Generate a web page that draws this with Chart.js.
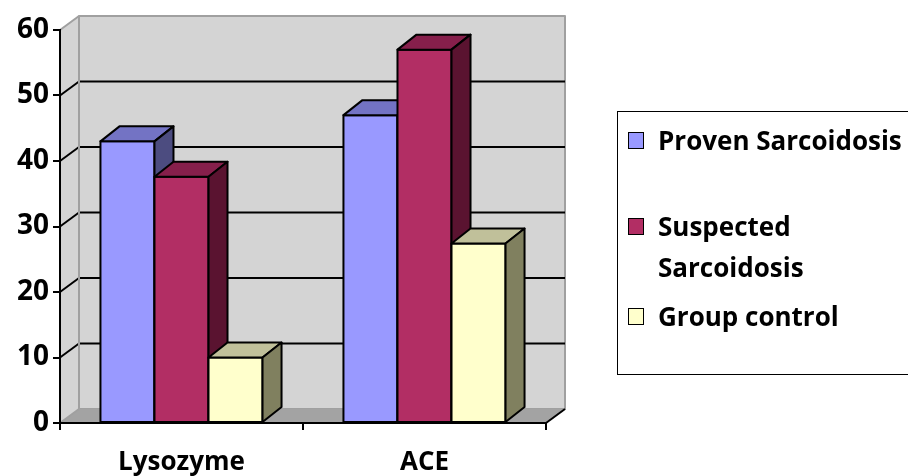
<!DOCTYPE html>
<html>
<head>
<meta charset="utf-8">
<script src="https://cdn.jsdelivr.net/npm/chart.js@4/dist/chart.umd.min.js"></script>
<style>
    body { margin: 0; background: #fff; }
    #wrap { position: relative; width: 908px; height: 476px; overflow: hidden; }
    #chart { position: absolute; left: 0; top: 0; }
    #legend {
        position: absolute; left: 617px; top: 111px; width: 300px; height: 264px;
        border: 1.5px solid #000; box-sizing: border-box;
        font-family: 'Open Sans', sans-serif; font-weight: bold; font-size: 26px; color: #000;
    }
    .item { position: absolute; left: 0; }
    .swatch { position: absolute; left: 10px; width: 14px; height: 15px; border: 1.5px solid #000; }
    .label { position: absolute; left: 40px; width: 270px; line-height: 41px; }
</style>
</head>
<body>
<div id="wrap">
    <canvas id="chart" width="908" height="476"></canvas>
    <div id="legend"></div>
</div>
<script>
(function () {
    'use strict';

    // =================== Datos ===================

    const categories = ['Lysozyme', 'ACE'];
    const seriesNames = ['Proven Sarcoidosis', 'Suspected Sarcoidosis', 'Group control'];
    const provenValues = [43, 47];
    const suspectedValues = [37.6, 57];
    const controlValues = [10, 27.4];
    const yMax = 60;
    const yStep = 10;

    // colores: cara frontal, tapa, lateral
    const frontColors = ['#9999ff', '#b22e64', '#ffffcc'];
    const topColors = ['#7373c4', '#861f4b', '#c0c09a'];
    const sideColors = ['#4c4c80', '#5a1330', '#80805f'];

    const wallDepth = { dx: 19, dy: -14 };
    const barDepth = { dx: 19, dy: -15 };
    const font = 'Open Sans';

    // =================== Helpers ===================

    function poly(ctx, pts, fill, stroke, lw) {
        ctx.beginPath();
        ctx.moveTo(pts[0][0], pts[0][1]);
        for (let i = 1; i < pts.length; i++) ctx.lineTo(pts[i][0], pts[i][1]);
        ctx.closePath();
        if (fill) { ctx.fillStyle = fill; ctx.fill(); }
        if (stroke) { ctx.strokeStyle = stroke; ctx.lineWidth = lw || 2; ctx.stroke(); }
    }

    function line(ctx, x1, y1, x2, y2, color, lw) {
        ctx.beginPath();
        ctx.moveTo(x1, y1);
        ctx.lineTo(x2, y2);
        ctx.strokeStyle = color;
        ctx.lineWidth = lw;
        ctx.stroke();
    }

    // paredes, suelo y rejilla (antes de los ejes)
    const walls = {
        id: 'walls',
        beforeDraw(chart) {
            const ctx = chart.ctx;
            const a = chart.chartArea;
            const ys = chart.scales.y;
            const dx = wallDepth.dx, dy = wallDepth.dy;
            ctx.save();
            ctx.lineJoin = 'round';

            // pared del fondo
            poly(ctx, [[a.left + dx, a.top + dy], [a.right + dx, a.top + dy],
                [a.right + dx, a.bottom + dy], [a.left + dx, a.bottom + dy]], '#d4d4d4', '#a0a0a0', 2);
            // pared lateral
            poly(ctx, [[a.left, a.top], [a.left + dx, a.top + dy],
                [a.left + dx, a.bottom + dy], [a.left, a.bottom]], '#d4d4d4', null);
            // suelo
            poly(ctx, [[a.left, a.bottom], [a.right, a.bottom],
                [a.right + dx, a.bottom + dy], [a.left + dx, a.bottom + dy]], '#a3a3a3', null);

            for (let v = 0; v <= yMax; v += yStep) {
                const y = ys.getPixelForValue(v);
                const edge = (v === 0 || v === yMax);
                const c = edge ? '#a0a0a0' : '#000';
                line(ctx, a.left, y, a.left + dx, y + dy, c, 2);
                if (!edge) line(ctx, a.left + dx, y + dy, a.right + dx, y + dy, c, 2);
            }
            line(ctx, a.left + dx, a.top + dy, a.left + dx, a.bottom + dy, '#a0a0a0', 2);
            line(ctx, a.right, a.bottom, a.right + dx, a.bottom + dy, '#000', 2);
            ctx.restore();
        },
        afterDatasetsDraw(chart) {
            const ctx = chart.ctx;
            const dx = barDepth.dx, dy = barDepth.dy;
            ctx.save();
            ctx.lineJoin = 'round';
            for (let i = 0; i < categories.length; i++) {
                for (let d = 0; d < chart.data.datasets.length; d++) {
                    const el = chart.getDatasetMeta(d).data[i];
                    if (!el) continue;
                    const l = el.x - el.width / 2;
                    const r = el.x + el.width / 2;
                    const t = el.y;
                    const b = el.base;
                    poly(ctx, [[l, t], [r, t], [r, b], [l, b]], frontColors[d], '#000', 2);
                    poly(ctx, [[l, t], [l + dx, t + dy], [r + dx, t + dy], [r, t]], topColors[d], '#000', 2);
                    poly(ctx, [[r, t], [r + dx, t + dy], [r + dx, b + dy], [r, b]], sideColors[d], '#000', 2);
                }
            }
            ctx.restore();
        }
    };

    const seriesValues = [provenValues, suspectedValues, controlValues];

    new Chart(document.getElementById('chart'), {
        type: 'bar',
        data: {
            labels: categories,
            datasets: seriesNames.map((name, d) => ({
                label: name,
                data: seriesValues[d],
                backgroundColor: 'rgba(0,0,0,0)',
                borderWidth: 0,
                categoryPercentage: 0.667,
                barPercentage: 1
            }))
        },
        options: {
            responsive: false,
            animation: false,
            layout: { padding: { top: 30, right: 362, left: 0, bottom: 0 } },
            plugins: {
                legend: { display: false },
                tooltip: { enabled: false }
            },
            scales: {
                x: {
                    afterFit: s => { s.height = 53; },
                    grid: { drawOnChartArea: false, tickLength: 7, color: '#000', lineWidth: 2 },
                    border: { color: '#000', width: 2 },
                    ticks: { color: '#000', padding: 17, font: { family: font, weight: 'bold', size: 26 } }
                },
                y: {
                    min: 0,
                    max: yMax,
                    afterFit: s => { s.width = 60; },
                    grid: { drawOnChartArea: false, tickLength: 7, color: '#000', lineWidth: 2 },
                    border: { color: '#000', width: 2 },
                    ticks: { stepSize: yStep, color: '#000', padding: 4, font: { family: font, weight: 'bold', size: 28 } }
                }
            }
        },
        plugins: [walls]
    });

    // =================== Leyenda ===================

    const legendTops = [8, 94, 184];
    const legend = document.getElementById('legend');
    seriesNames.forEach((name, d) => {
        const item = document.createElement('div');
        item.className = 'item';
        item.style.top = legendTops[d] + 'px';
        item.innerHTML = '<div class="swatch" style="top:12px;background:' + frontColors[d] + '"></div>' +
            '<div class="label">' + name + '</div>';
        legend.appendChild(item);
    });
})();
</script>
</body>
</html>
